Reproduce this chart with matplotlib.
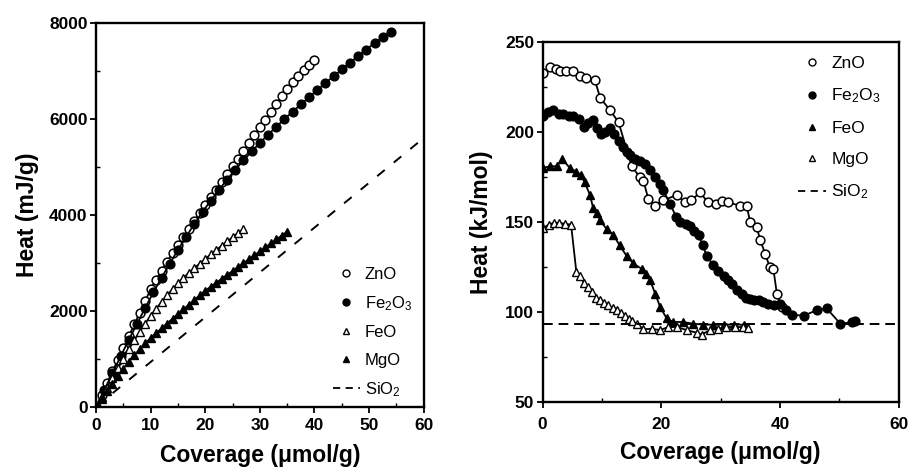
import matplotlib
matplotlib.use("Agg")
import matplotlib.pyplot as plt
from matplotlib.lines import Line2D
from matplotlib.ticker import MultipleLocator

plt.rcParams['font.family'] = ['Liberation Sans', 'DejaVu Sans']
plt.rcParams['mathtext.default'] = 'regular'

# ---------------- Left panel: integral heat (mJ/g) ----------------
zno_int_x = list(range(0, 41))
zno_int_y = [0, 245, 490, 735, 980, 1225, 1470, 1715, 1960, 2205, 2450,
             2645, 2835, 3020, 3200, 3375, 3545, 3710, 3875, 4035, 4200,
             4362, 4524, 4686, 4848, 5010, 5172, 5334, 5496, 5658, 5820,
             5982, 6144, 6306, 6468, 6630, 6770, 6895, 7010, 7120, 7220]

fe2o3_int_x = [0, 1.5, 3, 4.5, 6, 7.5, 9, 10.5, 12, 13.5, 15, 16.5, 18, 19.5,
               21, 22.5, 24, 25.5, 27, 28.5, 30, 31.5, 33, 34.5, 36, 37.5, 39,
               40.5, 42, 43.5, 45, 46.5, 48, 49.5, 51, 52.5, 54]
fe2o3_int_y = [0, 350, 700, 1050, 1395, 1730, 2060, 2385, 2690, 2985, 3270,
               3545, 3810, 4060, 4295, 4520, 4735, 4940, 5135, 5320, 5500,
               5670, 5835, 5995, 6150, 6300, 6450, 6600, 6745, 6890, 7030,
               7170, 7310, 7445, 7580, 7700, 7815]

feo_int_x = list(range(0, 28))
feo_int_y = [0, 200, 400, 600, 800, 1000, 1195, 1385, 1565, 1735, 1895,
             2045, 2185, 2320, 2450, 2570, 2685, 2790, 2890, 2985, 3080,
             3175, 3265, 3355, 3445, 3535, 3620, 3705]

mgo_int_x = list(range(0, 36))
mgo_int_y = [0, 160, 320, 480, 640, 795, 940, 1075, 1200, 1320, 1435,
             1535, 1635, 1735, 1835, 1935, 2030, 2130, 2225, 2325, 2420,
             2502, 2584, 2666, 2748, 2830, 2912, 2994, 3076, 3158, 3240,
             3322, 3404, 3486, 3568, 3650]

sio2_int_x = [0, 60]
sio2_int_y = [0, 5600]

# ---------------- Right panel: differential heat (kJ/mol) ----------------
zno_diff_x = [0, 1.2, 2.2, 2.9, 4.0, 5.2, 6.3, 7.4, 8.8, 9.7, 11.4, 12.8,
              15.0, 16.4, 17.0, 17.8, 18.9, 20.3, 22.6, 24.0, 25.1, 26.5,
              27.9, 29.3, 30.2, 31.3, 33.3, 34.4, 35.0, 36.1, 36.7, 37.5,
              38.3, 38.9, 39.5, 40.3]
zno_diff_y = [233, 236, 235, 234, 234, 234, 231, 230, 229, 219, 212, 205.5,
              181, 175, 173, 163, 159, 162, 165, 161, 162, 166.5,
              161, 160, 161.5, 161, 159, 159, 150, 147, 140, 132.5,
              125, 124, 110, 103]

fe2o3_diff_x = [0, 0.9, 1.8, 2.7, 3.5, 4.4, 5.2, 6.1, 6.9, 7.7, 8.5, 9.2, 9.9,
                10.6, 11.4, 12.1, 12.8, 13.6, 14.2, 14.7, 15.5, 16.4, 17.2,
                18.1, 18.9, 19.8, 20.3, 21.5, 22.5, 23.2, 24.1, 24.9, 25.6,
                26.3, 27.0, 27.7, 28.8, 29.6, 30.5, 31.2, 31.9, 32.7, 33.6,
                34.3, 35.0, 35.7, 36.4, 37.2, 38.0, 39.0, 40.0, 41.0, 42.0,
                44.0, 46.2, 47.9, 50.2, 52.1, 52.7]
fe2o3_diff_y = [209, 211, 212, 210, 210, 209, 209, 207, 203, 205, 206.5, 202,
                199, 200, 202, 199, 195, 191.7, 189, 187, 185, 184, 182,
                178.7, 175, 171, 168, 160, 153, 150, 149, 148, 145,
                142.6, 137, 131, 126, 123, 120, 118, 115.8, 112.5, 110,
                108, 107, 106.8, 106.5, 105.5, 104.6, 104, 104.6, 101, 98.5,
                98, 101, 102, 93.5, 94.4, 95]

feo_diff_x = [0, 1.2, 2.4, 3.3, 4.6, 5.7, 6.5, 7.1, 8.0, 8.5, 9.2, 9.7, 10.8,
              11.9, 13.0, 14.2, 15.3, 16.7, 17.5, 18.1, 19.0, 19.8, 20.9,
              22.0, 23.7, 25.4, 27.1, 28.8, 30.5, 32.2, 34.0]
feo_diff_y = [180, 181, 181, 185, 180, 178, 176, 172, 165, 158, 155, 151, 146,
              143, 137, 131, 127, 124, 121, 118, 110, 103, 96.5,
              94.5, 94.5, 93.5, 93, 93, 93, 93, 93]

mgo_diff_x = [0, 1.0, 1.9, 2.8, 3.7, 4.8, 5.7, 6.3, 7.0, 7.6, 8.3, 9.0, 9.7,
              10.4, 11.1, 11.8, 12.5, 13.2, 13.9, 14.5, 15.0, 15.9, 17.0,
              18.4, 19.8, 21.2, 22.6, 24.3, 26.0, 26.8, 28.2, 29.6, 31.0,
              32.4, 33.8, 34.7]
mgo_diff_y = [146.5, 148.5, 149.6, 149.6, 149, 148.6, 122, 120, 116, 114, 111,
              108, 106.5, 105, 103.7, 102, 101, 99.5, 98, 96, 95, 93.5, 90.5,
              90.7, 90, 91.7, 91.7, 90, 88.5, 87.5, 90, 90.7, 91.7,
              91.7, 91.7, 91]

sio2_diff_x = [0, 60]
sio2_diff_y = [93.5, 93.5]

left_labels = ['ZnO', r'Fe$_2$O$_3$', 'FeO', 'MgO', r'SiO$_2$']
right_labels = ['ZnO', r'Fe$_2$O$_3$', 'FeO', 'MgO', r'SiO$_2$']

fig = plt.figure(figsize=(9.15, 4.67), dpi=100)
axL = fig.add_axes([0.105, 0.129, 0.358, 0.822])
axR = fig.add_axes([0.593, 0.139, 0.389, 0.771])

k = 'black'
lw = 1.3
ms = 6.3

def style(ax, pad):
    for s in ax.spines.values():
        s.set_linewidth(1.7)
    ax.tick_params(which='major', direction='out', length=4, width=1.3,
                   labelsize=12.5, pad=2)
    ax.tick_params(axis='x', which='major', pad=pad)
    ax.tick_params(which='minor', direction='in', length=3, width=1.0)
    for lab in ax.get_xticklabels() + ax.get_yticklabels():
        lab.set_fontweight('bold')

# Left panel
axL.plot(zno_int_x, zno_int_y, '-', color=k, lw=lw, marker='o', ms=ms,
         mfc='white', mec=k, mew=1.1)
axL.plot(fe2o3_int_x, fe2o3_int_y, '-', color=k, lw=lw, marker='o', ms=ms,
         mfc=k, mec=k)
axL.plot(feo_int_x, feo_int_y, '-', color=k, lw=lw, marker='^', ms=5.3,
         mfc='white', mec=k, mew=1.0)
axL.plot(mgo_int_x, mgo_int_y, '-', color=k, lw=lw, marker='^', ms=5.5,
         mfc=k, mec=k)
axL.plot(sio2_int_x, sio2_int_y, '--', color=k, lw=1.4, dashes=(5, 6))
axL.set_xlim(0, 60)
axL.set_ylim(0, 8000)
axL.set_xticks([0, 10, 20, 30, 40, 50, 60])
axL.set_yticks([0, 2000, 4000, 6000, 8000])
axL.xaxis.set_minor_locator(MultipleLocator(5))
axL.yaxis.set_minor_locator(MultipleLocator(1000))
axL.set_xlabel('Coverage (\u03bcmol/g)', fontsize=16.5, fontweight='bold',
               labelpad=8)
axL.set_ylabel('Heat (mJ/g)', fontsize=16.5, fontweight='bold', labelpad=7)
style(axL, 4)

hL = [Line2D([], [], ls='none', marker='o', ms=5, mfc='white', mec=k),
      Line2D([], [], ls='none', marker='o', ms=5, mfc=k, mec=k),
      Line2D([], [], ls='none', marker='^', ms=5, mfc='white', mec=k),
      Line2D([], [], ls='none', marker='^', ms=5, mfc=k, mec=k),
      Line2D([], [], ls='--', color=k, lw=1.3, dashes=(4, 3))]
axL.legend(hL, left_labels, loc='lower right', bbox_to_anchor=(1.0, -0.01),
           frameon=False, fontsize=12, handlelength=1.6, handletextpad=0.3,
           labelspacing=0.75, borderaxespad=0.3)

# Right panel
axR.plot(zno_diff_x, zno_diff_y, '-', color=k, lw=lw, marker='o', ms=ms,
         mfc='white', mec=k, mew=1.1)
axR.plot(fe2o3_diff_x, fe2o3_diff_y, '-', color=k, lw=lw, marker='o', ms=ms,
         mfc=k, mec=k)
axR.plot(feo_diff_x, feo_diff_y, '-', color=k, lw=lw, marker='^', ms=6,
         mfc=k, mec=k)
axR.plot(mgo_diff_x, mgo_diff_y, '-', color=k, lw=lw, marker='^', ms=6,
         mfc='white', mec=k, mew=1.0)
axR.plot(sio2_diff_x, sio2_diff_y, '--', color=k, lw=1.4, dashes=(5, 3))
axR.set_xlim(0, 60)
axR.set_ylim(50, 250)
axR.set_xticks([0, 20, 40, 60])
axR.set_yticks([50, 100, 150, 200, 250])
axR.xaxis.set_minor_locator(MultipleLocator(10))
axR.yaxis.set_minor_locator(MultipleLocator(25))
axR.set_xlabel('Coverage (\u03bcmol/g)', fontsize=16.5, fontweight='bold',
               labelpad=6)
axR.set_ylabel('Heat (kJ/mol)', fontsize=16.5, fontweight='bold', labelpad=9)
style(axR, 7)

hR = [Line2D([], [], ls='none', marker='o', ms=5, mfc='white', mec=k),
      Line2D([], [], ls='none', marker='o', ms=5, mfc=k, mec=k),
      Line2D([], [], ls='none', marker='^', ms=5, mfc=k, mec=k),
      Line2D([], [], ls='none', marker='^', ms=5, mfc='white', mec=k),
      Line2D([], [], ls='--', color=k, lw=1.3, dashes=(4, 3))]
axR.legend(hR, right_labels, loc='upper right', bbox_to_anchor=(0.985, 0.995),
           frameon=False, fontsize=12.5, handlelength=1.6, handletextpad=0.3,
           labelspacing=0.9, borderaxespad=0.3)

fig.savefig('out.png', dpi=100)
